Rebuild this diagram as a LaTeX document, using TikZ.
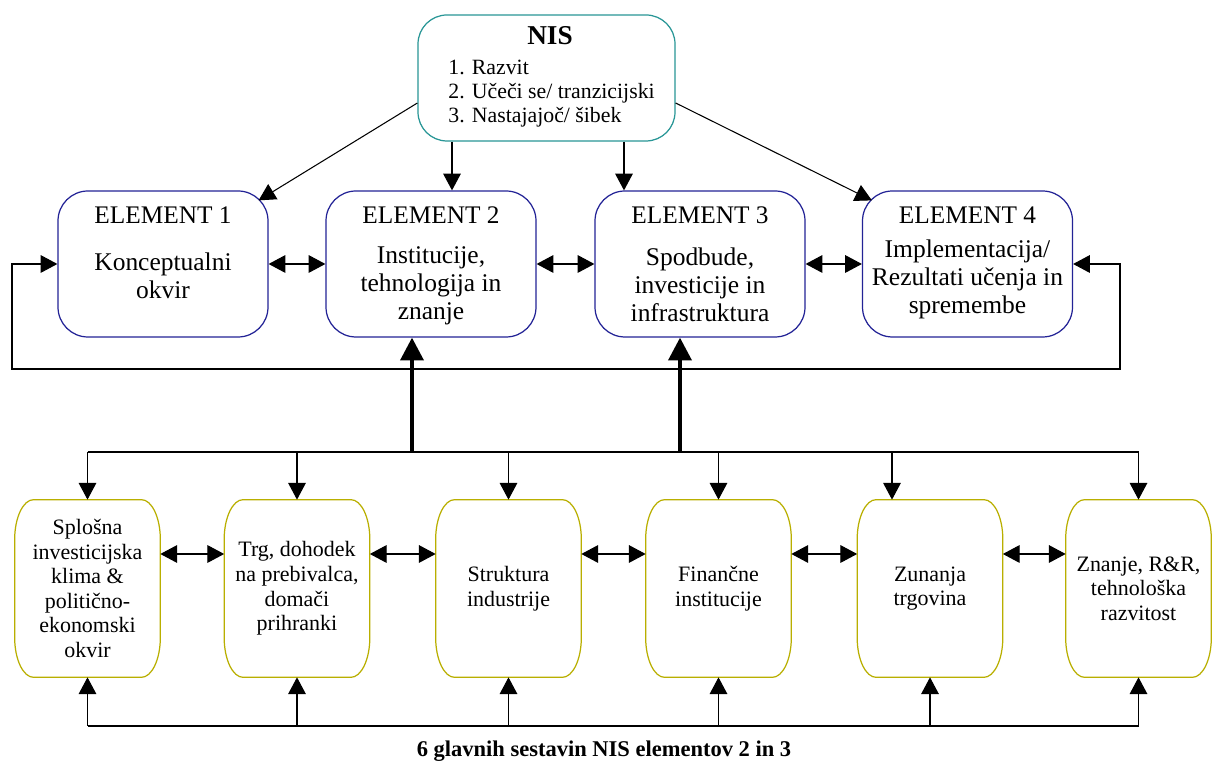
\documentclass[tikz,border=0pt]{standalone}
\usepackage{fontspec}
\setmainfont{Liberation Serif}
\usetikzlibrary{arrows.meta}
\definecolor{elblue}{RGB}{35,35,150}
\definecolor{nisteal}{RGB}{40,150,150}
\definecolor{sestyel}{RGB}{185,175,0}

\begin{document}
\begin{tikzpicture}[
	arr/.style={line width=0.6pt, -{Triangle[length=9.5pt,width=10pt]}},
	dblarr/.style={line width=0.6pt, {Triangle[length=9.5pt,width=10pt]}-{Triangle[length=9.5pt,width=10pt]}},
	bigarr/.style={line width=2.4pt, -{Triangle[length=13pt,width=13pt]}},
	nisbox/.style={shape=rectangle, draw=nisteal, line width=0.7pt, rounded corners=0.58cm, minimum width=5.14cm, minimum height=2.52cm},
	elbox/.style={shape=rectangle, draw=elblue, line width=0.7pt, rounded corners=0.6cm, minimum width=4.2cm, minimum height=2.92cm},
	sbox/.style={shape=rectangle, minimum width=2.9cm, minimum height=3.54cm, align=center, font=\fontsize{12.5}{14}\selectfont},
	eltitle/.style={font=\fontsize{14.4}{16}\selectfont},
	eltext/.style={align=center, font=\fontsize{14.5}{16}\selectfont}
]
	\useasboundingbox[fill=white] (0, 0) rectangle (24.24, 15.3);

	% Paths, nodes and wires:

	\node[nisbox] (nis) at (10.93, 13.74){};
	\node[font=\fontsize{15.5}{17}\selectfont\bfseries] (nist) at (11, 14.58){NIS};
	\node[anchor=west, inner sep=0pt, align=left, font=\fontsize{12.4}{13.6}\selectfont] (nisl) at (8.96, 13.42){1. Razvit\\2. Učeči se/ tranzicijski\\3. Nastajajoč/ šibek};

	\node[elbox] (e1) at (3.26, 10.02){};
	\node[eltitle] (e1t) at (3.26, 11){ELEMENT 1};
	\node[eltext] (e1b) at (3.26, 9.78){Konceptualni\\okvir};
	\node[elbox] (e2) at (8.62, 10.02){};
	\node[eltitle] (e2t) at (8.62, 11){ELEMENT 2};
	\node[eltext] (e2b) at (8.62, 9.58){Institucije,\\tehnologija in\\znanje};
	\node[elbox] (e3) at (14, 10.02){};
	\node[eltitle] (e3t) at (14, 11){ELEMENT 3};
	\node[eltext] (e3b) at (14, 9.6){Spodbude,\\investicije in\\infrastruktura};
	\node[elbox] (e4) at (19.35, 10.02){};
	\node[eltitle] (e4t) at (19.35, 11){ELEMENT 4};
	\node[eltext] (e4b) at (19.35, 9.72){Implementacija/\\Rezultati učenja in\\spremembe};

	\node[sbox] (b1) at (1.75, 3.53){Splošna\\investicijska\\klima \&\\politično-\\ekonomski\\okvir};
	\node[sbox] (b2) at (5.94, 3.53){Trg, dohodek\\na prebivalca,\\domači\\prihranki};
	\node[sbox] (b3) at (10.17, 3.53){Struktura\\industrije};
	\node[sbox] (b4) at (14.37, 3.53){Finančne\\institucije};
	\node[sbox] (b5) at (18.6, 3.53){Zunanja\\trgovina};
	\node[sbox] (b6) at (22.77, 3.53){Znanje, R\&R,\\tehnološka\\razvitost};
	\foreach \s in {b1,b2,b3,b4,b5,b6}
		\draw[sestyel, line width=0.7pt] ([xshift=0.38cm]\s.north west) -- ([xshift=-0.38cm]\s.north east)
			arc[start angle=90, end angle=0, x radius=0.38cm, y radius=0.8cm] -- ([yshift=0.8cm]\s.south east)
			arc[start angle=0, end angle=-90, x radius=0.38cm, y radius=0.8cm] -- ([xshift=0.38cm]\s.south west)
			arc[start angle=270, end angle=180, x radius=0.38cm, y radius=0.8cm] -- ([yshift=-0.8cm]\s.north west)
			arc[start angle=180, end angle=90, x radius=0.38cm, y radius=0.8cm] -- cycle;

	\node[font=\fontsize{12.8}{15}\selectfont\bfseries] (cap) at (12.08, 0.28){6 glavnih sestavin NIS elementov 2 in 3};

	% NIS to elements
	\coordinate (n2) at ([xshift=0.42cm]e2.north);
	\coordinate (n3) at ([xshift=-1.52cm]e3.north);
	\draw[arr] ([yshift=-0.5cm]nis.west) -- ([xshift=-0.2cm, yshift=-0.2cm]e1.north east);
	\draw[arr] ([yshift=-0.5cm]nis.east) -- ([xshift=0.2cm, yshift=-0.2cm]e4.north west);
	\draw[arr] (nis.south -| n2) -- (n2);
	\draw[arr] (nis.south -| n3) -- (n3);

	\draw[dblarr] (e1.east) -- (e2.west);
	\draw[dblarr] (e2.east) -- (e3.west);
	\draw[dblarr] (e3.east) -- (e4.west);

	\coordinate (lr) at (22.4, 7.92);
	\coordinate (ll) at (0.24, 7.92);
	\draw[dblarr] (e4.east) -| (lr) -- (ll) |- (e1.west);

	% components to elements 2 and 3
	\coordinate (bus) at (0, 6.26);
	\coordinate (base) at (0, 0.78);
	\coordinate (u2) at ([xshift=-0.38cm]e2.south);
	\coordinate (u3) at ([xshift=-0.4cm]e3.south);
	\coordinate (d5) at ([xshift=-0.76cm]b5.north);
	\draw[line width=0.6pt] (b1.north |- bus) -- (b6.north |- bus);
	\draw[bigarr] (u2 |- bus) -- (u2);
	\draw[bigarr] (u3 |- bus) -- (u3);
	\foreach \s in {b1,b2,b3,b4,b6}
		\draw[arr] (\s.north |- bus) -- (\s.north);
	\draw[arr] (d5 |- bus) -- (d5);

	\foreach \i/\j in {1/2,2/3,3/4,4/5,5/6}
		\draw[dblarr] ([yshift=0.69cm]b\i.east) -- ([yshift=0.69cm]b\j.west);

	\draw[line width=0.6pt] (b1.south |- base) -- (b6.south |- base);
	\foreach \s in {b1,b2,b3,b4,b5,b6}
		\draw[arr] (\s.south |- base) -- (\s.south);
\end{tikzpicture}
\end{document}
